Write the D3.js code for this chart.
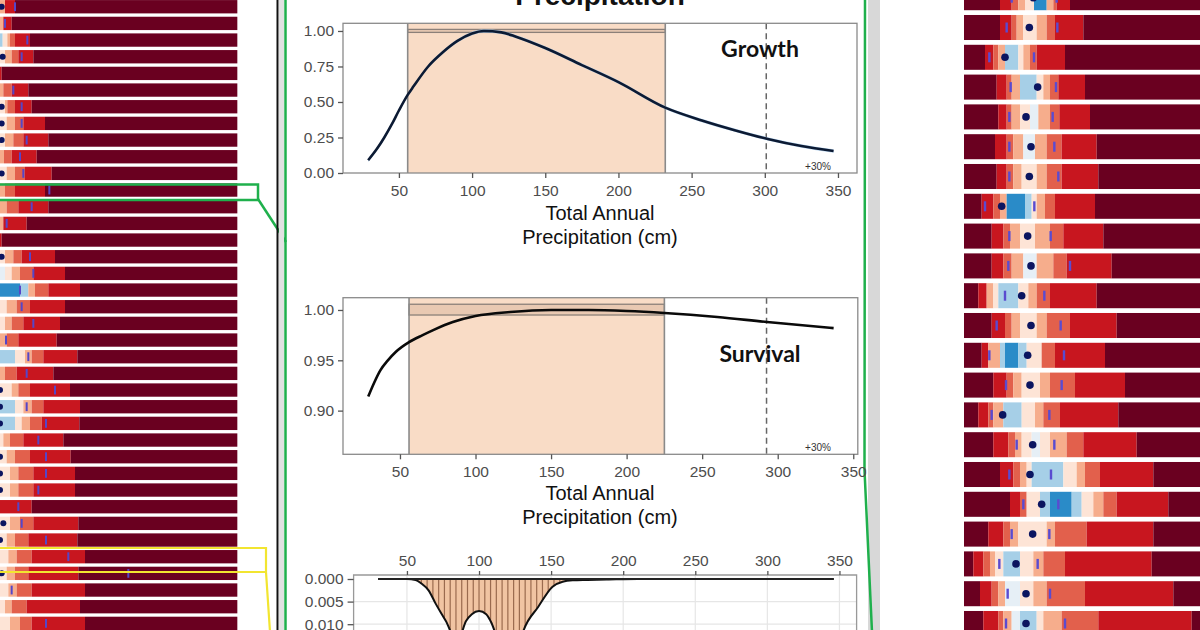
<!DOCTYPE html>
<html><head><meta charset="utf-8">
<script src="https://cdn.jsdelivr.net/npm/d3@7"></script>
<style>body{margin:0;background:#fff}svg{display:block}</style>
</head><body>
<svg id="c" width="1200" height="630"></svg>
<script>
// ---------------- DATA ----------------
const precipTicks = [50, 100, 150, 200, 250, 300, 350];
const growthYTicks = [0, 0.25, 0.5, 0.75, 1.0];
const survivalYTicks = [0.90, 0.95, 1.00];
const densityYTicks = [0.000, 0.005, 0.010];

const growthX = [29, 35, 40, 45, 50, 56, 60, 70, 80, 90, 100, 108, 120, 130, 150, 175, 200, 232, 257, 280, 302, 325, 347];
const growthY = [0.09, 0.17, 0.25, 0.34, 0.44, 0.55, 0.61, 0.75, 0.85, 0.93, 0.982, 1.00, 0.99, 0.96, 0.88, 0.76, 0.64, 0.46, 0.37, 0.30, 0.24, 0.19, 0.155];
const growthRange = [56, 232];
const growthBand = [0.99, 1.011];
const growthPlus30 = 301;

const survivalX = [29, 33, 37, 42, 47, 56, 65, 72, 85, 100, 123, 150, 175, 200, 225, 260, 293, 337];
const survivalY = [0.914, 0.928, 0.940, 0.950, 0.958, 0.968, 0.975, 0.980, 0.988, 0.994, 0.998, 1.000, 1.000, 0.999, 0.997, 0.993, 0.988, 0.982];
const survivalRange = [56, 225];
const survivalBand = [0.995, 1.0057];
const survivalPlus30 = 292.6;

const densityX = [30, 50, 56, 60, 65, 70, 77, 85, 91, 95, 100, 105, 108, 115, 125, 131, 141, 151, 158, 165, 175, 190, 210, 250, 300, 346];
const densityY = [0, 0, 0.0002, 0.001, 0.0025, 0.0055, 0.0093, 0.014, 0.0093, 0.0078, 0.0071, 0.0078, 0.0093, 0.015, 0.018, 0.0113, 0.0062, 0.0017, 0.0006, 0.0003, 0.0002, 0.0001, 0, 0, 0, 0];

// colour classes of the strip heat maps
const binCodes = ["d", "r", "s", "p", "w", "e", "l", "b"];
const binColors = ["#6a0020", "#c8161f", "#e2604c", "#f6ad8c", "#fde4d6", "#e6eff6", "#a6cfe7", "#2a8bc8"];

// left strips: [segment end, class]
const leftSegments = [
  [[15,"p"],[45,"r"],[712,"d"]],
  [[10,"p"],[35,"r"],[712,"d"]],
  [[8,"l"],[22,"w"],[30,"p"],[45,"s"],[90,"r"],[712,"d"]],
  [[15,"w"],[35,"p"],[55,"s"],[100,"r"],[712,"d"]],
  [[5,"r"],[712,"d"]],
  [[10,"p"],[35,"s"],[85,"r"],[712,"d"]],
  [[15,"w"],[22,"p"],[45,"s"],[95,"r"],[712,"d"]],
  [[20,"w"],[45,"p"],[70,"s"],[135,"r"],[712,"d"]],
  [[15,"w"],[40,"p"],[70,"s"],[145,"r"],[712,"d"]],
  [[12,"p"],[35,"s"],[110,"r"],[712,"d"]],
  [[20,"w"],[45,"p"],[75,"s"],[155,"r"],[712,"d"]],
  [[15,"p"],[45,"s"],[135,"r"],[712,"d"]],
  [[20,"p"],[55,"s"],[145,"r"],[712,"d"]],
  [[10,"p"],[80,"r"],[712,"d"]],
  [[5,"r"],[712,"d"]],
  [[15,"w"],[40,"p"],[65,"s"],[165,"r"],[712,"d"]],
  [[15,"e"],[35,"w"],[60,"p"],[100,"s"],[195,"r"],[712,"d"]],
  [[60,"b"],[85,"l"],[105,"p"],[145,"s"],[240,"r"],[712,"d"]],
  [[20,"w"],[50,"p"],[90,"s"],[195,"r"],[712,"d"]],
  [[15,"w"],[35,"p"],[70,"s"],[180,"r"],[712,"d"]],
  [[20,"p"],[55,"s"],[170,"r"],[712,"d"]],
  [[45,"l"],[75,"w"],[95,"p"],[130,"s"],[232,"r"],[712,"d"]],
  [[15,"p"],[50,"s"],[160,"r"],[712,"d"]],
  [[35,"w"],[55,"p"],[90,"s"],[210,"r"],[712,"d"]],
  [[45,"l"],[70,"w"],[95,"p"],[130,"s"],[240,"r"],[712,"d"]],
  [[45,"l"],[65,"w"],[90,"p"],[125,"s"],[238,"r"],[712,"d"]],
  [[10,"w"],[30,"p"],[70,"s"],[190,"r"],[712,"d"]],
  [[20,"w"],[45,"p"],[90,"s"],[212,"r"],[712,"d"]],
  [[30,"w"],[55,"p"],[100,"s"],[225,"r"],[712,"d"]],
  [[30,"w"],[55,"p"],[100,"s"],[225,"r"],[712,"d"]],
  [[95,"r"],[712,"d"]],
  [[30,"w"],[60,"p"],[100,"s"],[235,"r"],[712,"d"]],
  [[20,"w"],[45,"p"],[85,"s"],[232,"r"],[712,"d"]],
  [[25,"w"],[50,"p"],[95,"s"],[255,"r"],[712,"d"]],
  [[20,"w"],[45,"p"],[85,"s"],[235,"r"],[712,"d"]],
  [[25,"w"],[50,"p"],[95,"s"],[255,"r"],[712,"d"]],
  [[15,"w"],[35,"p"],[80,"s"],[240,"r"],[712,"d"]],
  [[30,"w"],[60,"p"],[95,"s"],[255,"r"],[712,"d"]]
];
const leftDots = [[0,5],[3,8],[6,5],[7,5],[8,5],[10,5],[15,5],[23,0],[24,0],[25,0],[27,0],[28,0],[29,0],[31,10],[32,0],[34,5]];
const leftTicks = [45,15,82,65,null,40,65,65,80,60,70,148,95,20,null,90,100,60,65,100,18,85,80,165,80,138,115,138,138,115,55,65,138,205,385,35,null,138];

// right strips: [segment end, class]
const rightSegments = [
  [[180,"d"],[215,"r"],[235,"s"],[255,"p"],[282,"w"],[320,"b"],[340,"p"],[350,"s"],[390,"r"],[800,"d"]],
  [[180,"d"],[215,"r"],[230,"s"],[250,"p"],[290,"w"],[320,"p"],[345,"s"],[430,"r"],[800,"d"]],
  [[135,"d"],[160,"r"],[175,"s"],[195,"p"],[235,"l"],[250,"w"],[270,"p"],[290,"s"],[375,"r"],[800,"d"]],
  [[170,"d"],[200,"r"],[215,"s"],[240,"p"],[290,"l"],[310,"w"],[330,"p"],[355,"s"],[435,"r"],[800,"d"]],
  [[175,"d"],[200,"r"],[215,"s"],[240,"p"],[270,"w"],[295,"e"],[330,"p"],[358,"s"],[450,"r"],[800,"d"]],
  [[165,"d"],[200,"r"],[220,"s"],[250,"p"],[285,"e"],[320,"p"],[365,"s"],[470,"r"],[800,"d"]],
  [[170,"d"],[200,"r"],[220,"s"],[245,"p"],[290,"w"],[320,"p"],[365,"s"],[475,"r"],[800,"d"]],
  [[125,"d"],[160,"r"],[180,"s"],[200,"p"],[255,"b"],[275,"l"],[290,"w"],[315,"p"],[345,"s"],[465,"r"],[800,"d"]],
  [[155,"d"],[190,"r"],[210,"s"],[240,"p"],[285,"w"],[330,"p"],[370,"s"],[490,"r"],[800,"d"]],
  [[155,"d"],[190,"r"],[215,"s"],[250,"p"],[290,"e"],[340,"p"],[380,"s"],[515,"r"],[800,"d"]],
  [[115,"d"],[140,"r"],[160,"p"],[175,"w"],[235,"l"],[265,"w"],[290,"p"],[330,"s"],[470,"r"],[800,"d"]],
  [[155,"d"],[195,"r"],[215,"s"],[240,"p"],[290,"w"],[320,"p"],[390,"s"],[530,"r"],[800,"d"]],
  [[125,"d"],[145,"r"],[180,"p"],[195,"l"],[235,"b"],[260,"l"],[305,"w"],[345,"s"],[495,"r"],[800,"d"]],
  [[160,"d"],[200,"r"],[220,"s"],[245,"p"],[300,"w"],[330,"p"],[405,"s"],[555,"r"],[800,"d"]],
  [[115,"d"],[145,"r"],[160,"s"],[190,"p"],[245,"l"],[285,"w"],[310,"p"],[360,"s"],[535,"r"],[800,"d"]],
  [[160,"d"],[205,"r"],[225,"s"],[245,"p"],[275,"w"],[300,"e"],[330,"w"],[380,"p"],[430,"s"],[590,"r"],[800,"d"]],
  [[180,"d"],[220,"r"],[240,"s"],[260,"p"],[275,"w"],[370,"l"],[410,"w"],[435,"p"],[480,"s"],[640,"r"],[800,"d"]],
  [[210,"d"],[240,"r"],[260,"s"],[300,"w"],[330,"l"],[395,"b"],[425,"l"],[460,"w"],[490,"p"],[530,"s"],[685,"r"],[800,"d"]],
  [[145,"d"],[190,"r"],[210,"s"],[235,"p"],[320,"w"],[345,"p"],[440,"s"],[640,"r"],[800,"d"]],
  [[100,"d"],[130,"r"],[150,"s"],[165,"p"],[190,"w"],[240,"l"],[280,"w"],[310,"p"],[375,"s"],[635,"r"],[800,"d"]],
  [[120,"d"],[155,"r"],[175,"s"],[195,"p"],[240,"e"],[280,"w"],[320,"p"],[435,"s"],[700,"r"],[800,"d"]],
  [[130,"d"],[175,"r"],[190,"s"],[215,"p"],[240,"e"],[290,"l"],[310,"w"],[365,"p"],[475,"s"],[755,"r"],[800,"d"]]
];
const rightDots = [280,268,195,293,258,273,268,185,263,273,245,273,263,270,188,278,270,305,278,228,258,258];
const rightTicks = [[215,350],[200,352],[148,282],[212,348],[208,338],[208,343],[208,355],[135,283],[208,332],[205,390],[195,313],[170,362],[148,372],[198,365],[155,328],[230,343],[208,333],[250,355],[215,328],[178,293],[203,330],[198,375]];

// ---------------- DRAW ----------------
const svg = d3.select("#c");
const colorOf = d3.scaleOrdinal().domain(binCodes).range(binColors);
const AX = "Liberation Sans, Arial, sans-serif";

// ---- left strips
const xL = d3.scaleLinear().domain([0, 711]).range([0, 237]);
const yL = d3.scaleBand().domain(d3.range(leftSegments.length)).range([-1.6, 631.7]).paddingInner(0.2).paddingOuter(0.1);
const gL = svg.append("g");
leftSegments.forEach((segs, i) => {
  let start = 0;
  segs.forEach(([end, code]) => {
    gL.append("rect").attr("x", xL(start)).attr("y", yL(i))
      .attr("width", Math.max(0, xL(end) - xL(start))).attr("height", yL.bandwidth())
      .attr("fill", colorOf(code));
    start = end;
  });
});
leftTicks.forEach((t, i) => {
  if (t == null) return;
  gL.append("rect").attr("x", xL(t) - 1).attr("y", yL(i) + yL.bandwidth() * 0.17)
    .attr("width", 2).attr("height", yL.bandwidth() * 0.66).attr("fill", "#5546c8");
});
leftDots.forEach(([i, p]) => {
  gL.append("circle").attr("cx", xL(p)).attr("cy", yL(i) + yL.bandwidth() / 2).attr("r", 3).attr("fill", "#0b1560");
});

// ---- right strips
const xR = d3.scaleLinear().domain([72, 780]).range([964, 1200]);
const yR = d3.scaleBand().domain(d3.range(rightSegments.length)).range([-17.2, 638.4]).paddingInner(0.16).paddingOuter(0.08);
const gR = svg.append("g");
rightSegments.forEach((segs, i) => {
  let start = 72;
  segs.forEach(([end, code]) => {
    gR.append("rect").attr("x", xR(start)).attr("y", yR(i))
      .attr("width", Math.max(0, xR(end) - xR(start))).attr("height", yR.bandwidth())
      .attr("fill", colorOf(code));
    start = end;
  });
});
rightTicks.forEach((pair, i) => {
  pair.forEach(t => {
    gR.append("rect").attr("x", xR(t) - 1.2).attr("y", yR(i) + yR.bandwidth() * 0.3)
      .attr("width", 2.4).attr("height", yR.bandwidth() * 0.4).attr("fill", "#5a4bd0");
  });
});
rightDots.forEach((p, i) => {
  gR.append("circle").attr("cx", xR(p)).attr("cy", yR(i) + yR.bandwidth() / 2).attr("r", 3.8).attr("fill", "#0b1560");
});

// ---- connectors and frames
svg.append("rect").attr("x", -3).attr("y", 184.5).attr("width", 261).attr("height", 15.5)
  .attr("fill", "none").attr("stroke", "#1fb04c").attr("stroke-width", 2.5);
svg.append("line").attr("x1", 258).attr("y1", 199).attr("x2", 286).attr("y2", 242)
  .attr("stroke", "#1fb04c").attr("stroke-width", 2.5);
svg.append("path").attr("d", "M-3,548 L266,548 L266,572 L-3,572 M266,572 L270,632")
  .attr("fill", "none").attr("stroke", "#f2e530").attr("stroke-width", 2.2);
svg.append("rect").attr("x", 279).attr("y", 0).attr("width", 5).attr("height", 630).attr("fill", "#e2e2e2");
svg.append("line").attr("x1", 277.5).attr("y1", 0).attr("x2", 277.5).attr("y2", 630).attr("stroke", "#111").attr("stroke-width", 2);
svg.append("line").attr("x1", 285.5).attr("y1", 0).attr("x2", 285.5).attr("y2", 630).attr("stroke", "#1fb04c").attr("stroke-width", 2.5);
svg.append("rect").attr("x", 868).attr("y", 0).attr("width", 12).attr("height", 630).attr("fill", "#d8d8d8");
svg.append("path").attr("d", "M865,0 L864.5,470 L872,632").attr("fill", "none").attr("stroke", "#1fb04c").attr("stroke-width", 2.5);

// ---- title
svg.append("text").attr("x", 600).attr("y", 5).attr("text-anchor", "middle")
  .attr("font-family", AX).attr("font-weight", "bold").attr("font-size", 28).attr("fill", "#111").text("Precipitation");

function panel(cfg) {
  const g = svg.append("g");
  const { x, y } = cfg;
  const [x0, x1] = x.range();
  const [yb, yt] = y.range();
  g.append("rect").attr("x", x0).attr("y", yt).attr("width", x1 - x0).attr("height", yb - yt).attr("fill", "#fff");
  g.append("rect").attr("x", x(cfg.range[0])).attr("y", yt).attr("width", x(cfg.range[1]) - x(cfg.range[0]))
    .attr("height", yb - yt).attr("fill", "#f9dcc6");
  g.append("rect").attr("x", x(cfg.range[0])).attr("y", y(cfg.band[1])).attr("width", x(cfg.range[1]) - x(cfg.range[0]))
    .attr("height", y(cfg.band[0]) - y(cfg.band[1])).attr("fill", "#e9c9b2").attr("stroke", "#8c8079").attr("stroke-width", 1.3);
  [cfg.range[0], cfg.range[1]].forEach(v => g.append("line").attr("x1", x(v)).attr("x2", x(v)).attr("y1", yt).attr("y2", yb)
    .attr("stroke", "#8a8a8a").attr("stroke-width", 1.6));
  g.append("line").attr("x1", x(cfg.plus)).attr("x2", x(cfg.plus)).attr("y1", yt).attr("y2", yb)
    .attr("stroke", "#666").attr("stroke-width", 1.5).attr("stroke-dasharray", "6,4");
  const pts = cfg.xs.map((d, i) => [d, cfg.ys[i]]);
  if (cfg.ribbon) {
    g.append("path").datum(pts).attr("fill", "#a8cdef").attr("opacity", 0.75)
      .attr("d", d3.area().curve(d3.curveMonotoneX).x(d => x(d[0])).y0(d => y(d[1] - cfg.ribbon)).y1(d => y(d[1] + cfg.ribbon)));
  }
  g.append("path").datum(pts).attr("fill", "none").attr("stroke", cfg.color).attr("stroke-width", 2.6)
    .attr("d", d3.line().curve(d3.curveMonotoneX).x(d => x(d[0])).y(d => y(d[1])));
  g.append("rect").attr("x", x0).attr("y", yt).attr("width", x1 - x0).attr("height", yb - yt)
    .attr("fill", "none").attr("stroke", "#8a8a8a").attr("stroke-width", 1.3);
  const ax = g.append("g").attr("transform", `translate(0,${yb})`)
    .call(d3.axisBottom(x).tickValues(precipTicks).tickSize(5).tickPadding(7));
  const ay = g.append("g").attr("transform", `translate(${x0},0)`)
    .call(d3.axisLeft(y).tickValues(cfg.yticks).tickFormat(d3.format(".2f")).tickSize(5).tickPadding(4));
  [ax, ay].forEach(a => {
    a.select(".domain").remove();
    a.selectAll("line").attr("stroke", "#555").attr("stroke-width", 1.3);
    a.selectAll("text").attr("font-family", AX).attr("font-size", 15.5).attr("fill", "#4d4d4d");
  });
  g.append("text").attr("x", 760).attr("y", cfg.labelY).attr("text-anchor", "middle")
    .attr("font-family", "Lato, sans-serif").attr("font-weight", 700).attr("font-size", 23).attr("fill", "#111").text(cfg.label);
  g.append("text").attr("x", 818).attr("y", yb - 3).attr("text-anchor", "middle")
    .attr("font-family", AX).attr("font-size", 10).attr("fill", "#333").text("+30%");
  ["Total Annual", "Precipitation (cm)"].forEach((t, i) => g.append("text").attr("x", 600).attr("y", cfg.titleY + i * 24)
    .attr("text-anchor", "middle").attr("font-family", AX).attr("font-size", 20).attr("fill", "#111").text(t));
}

panel({
  x: d3.scaleLinear().domain([11.8, 363]).range([343, 857]),
  y: d3.scaleLinear().domain([0, 1.054]).range([173, 23.3]),
  range: growthRange, band: growthBand, plus: growthPlus30,
  xs: growthX, ys: growthY, ribbon: 0.012, color: "#0c1a33",
  yticks: growthYTicks, label: "Growth", labelY: 57, titleY: 220
});
panel({
  x: d3.scaleLinear().domain([12.3, 353]).range([343, 857.8]),
  y: d3.scaleLinear().domain([0.8566, 1.0122]).range([454.3, 297.7]),
  range: survivalRange, band: survivalBand, plus: survivalPlus30,
  xs: survivalX, ys: survivalY, ribbon: 0, color: "#0a0a0a",
  yticks: survivalYTicks, label: "Survival", labelY: 362, titleY: 500
});

// ---- density panel (reversed y)
const xD = d3.scaleLinear().domain([13, 361.9]).range([353.6, 856.6]);
const yD = d3.scaleLinear().domain([-0.000885, 0.0125]).range([575, 635.5]);
const gD = svg.append("g");
gD.append("rect").attr("x", 353.6).attr("y", 575).attr("width", 503).attr("height", 70).attr("fill", "#fff");
precipTicks.forEach(v => gD.append("line").attr("x1", xD(v)).attr("x2", xD(v)).attr("y1", 575).attr("y2", 640).attr("stroke", "#e6e6e6").attr("stroke-width", 1.2));
densityYTicks.slice(1).forEach(v => gD.append("line").attr("x1", 353.6).attr("x2", 856.6).attr("y1", yD(v)).attr("y2", yD(v)).attr("stroke", "#e6e6e6").attr("stroke-width", 1.2));
const dPts = densityX.map((d, i) => [d, densityY[i]]);
const dArea = d3.area().curve(d3.curveMonotoneX).x(d => xD(d[0])).y0(yD(0)).y1(d => yD(d[1]));
svg.append("defs").append("clipPath").attr("id", "dclip").append("path").datum(dPts).attr("d", dArea);
gD.append("path").datum(dPts).attr("fill", "#f1c4a2").attr("d", dArea);
const stripes = gD.append("g").attr("clip-path", "url(#dclip)");
d3.range(56, 200, 4).forEach(v => stripes.append("line").attr("x1", xD(v)).attr("x2", xD(v)).attr("y1", yD(0)).attr("y2", yD(0.03))
  .attr("stroke", "#9a6a4e").attr("stroke-width", 1.2));
gD.append("path").datum(dPts).attr("fill", "none").attr("stroke", "#111").attr("stroke-width", 2)
  .attr("d", d3.line().curve(d3.curveMonotoneX).x(d => xD(d[0])).y(d => yD(d[1])));
gD.append("line").attr("x1", xD(densityX[0])).attr("x2", xD(densityX[densityX.length - 1])).attr("y1", yD(0)).attr("y2", yD(0))
  .attr("stroke", "#222").attr("stroke-width", 2.2);
gD.append("path").attr("d", "M353.6,640 V575 H856.6 V640").attr("fill", "none").attr("stroke", "#999").attr("stroke-width", 1.3);
const dax = gD.append("g").attr("transform", "translate(0,575)").call(d3.axisTop(xD).tickValues(precipTicks).tickSize(4).tickPadding(5));
const day = gD.append("g").attr("transform", "translate(353.6,0)").call(d3.axisLeft(yD).tickValues(densityYTicks).tickFormat(d3.format(".3f")).tickSize(6).tickPadding(4));
[dax, day].forEach(a => {
  a.select(".domain").remove();
  a.selectAll("line").attr("stroke", "#555").attr("stroke-width", 1.3);
  a.selectAll("text").attr("font-family", AX).attr("font-size", 15.5).attr("fill", "#4d4d4d");
});
</script>
</body></html>
